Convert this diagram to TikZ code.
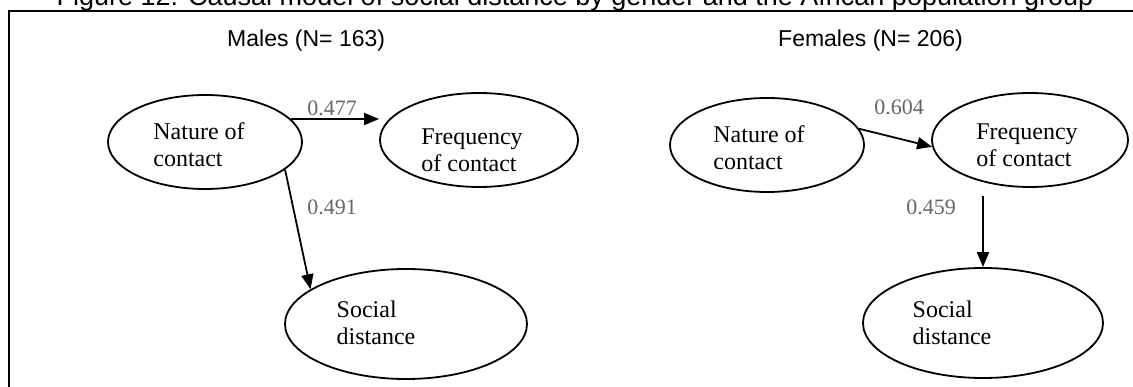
\documentclass[tikz,border=0pt]{standalone}
\usepackage{fontspec}
\setmainfont{Liberation Serif}
\newfontfamily\headfont{Liberation Sans}
\usetikzlibrary{arrows.meta,shapes.geometric}
\begin{document}
\begin{tikzpicture}[x=1pt,y=-1pt,
  oval/.style={draw,line width=1.8pt,ellipse,inner sep=0pt},
  vtext/.style={align=left,font=\fontsize{24}{27}\selectfont,inner sep=0pt},
  coef/.style={font=\fontsize{22}{24}\selectfont,text=black!60,inner sep=0pt},
  head/.style={font=\headfont\fontsize{23}{26}\selectfont,inner sep=0pt,anchor=base west},
  path arrow/.style={line width=1.8pt,-{Triangle[length=15pt,width=12pt]}}]
\useasboundingbox (0,0) rectangle (1133,387);
\clip (0,0) rectangle (1133,387);

% title, trimmed by the page edge, and the open frame below it
\node[font=\headfont\fontsize{27}{30}\selectfont,inner sep=0pt,anchor=base] (title) at (575,6)
  {Figure 12: Causal model of social distance by gender and the African population group};
\draw[line width=1.2pt] (9,387) -- (9,11) -- (1140,11);

% headings
\node[head] (mhead) at (227,47) {Males (N= 163)};
\node[head] (fhead) at (778,47) {Females (N= 206)};

% males model
\node[oval,minimum width=194pt,minimum height=94pt] (mnat) at (205,142) {};
\node[oval,minimum width=198pt,minimum height=94pt] (mfreq) at (479,140) {};
\node[oval,minimum width=242pt,minimum height=110pt] (mso) at (406,324) {};
\node[vtext] (mnatt) at (199,145) {Nature of\\contact};
\node[vtext] (mfreqt) at (472,150) {Frequency\\of contact};
\node[vtext] (msot) at (376,323) {Social\\distance};

\draw[path arrow] (mnat.15) -- (mnat.15 -| mfreq.west);
\draw[path arrow] (mnat.-19) -- (mso.160);
\node[coef] (m1) at (332,108) {0.477};
\node[coef] (m2) at (332,207) {0.491};

% females model
\node[oval,minimum width=194pt,minimum height=94pt] (fnat) at (767,145) {};
\node[oval,minimum width=196pt,minimum height=94pt] (ffreq) at (1030,140) {};
\node[oval,minimum width=240pt,minimum height=110pt] (fso) at (983,323) {};
\node[vtext] (fnatt) at (759,148) {Nature of\\contact};
\node[vtext] (ffreqt) at (1027,145) {Frequency\\of contact};
\node[vtext] (fsot) at (952,323) {Social\\distance};

\draw[path arrow] (fnat.10) -- (ffreq.184);
\draw[path arrow] ([yshift=-8pt]fso.north |- ffreq.south) -- (fso.north);
\node[coef] (f1) at (899,107) {0.604};
\node[coef] (f2) at (931,207) {0.459};
\end{tikzpicture}
\end{document}
